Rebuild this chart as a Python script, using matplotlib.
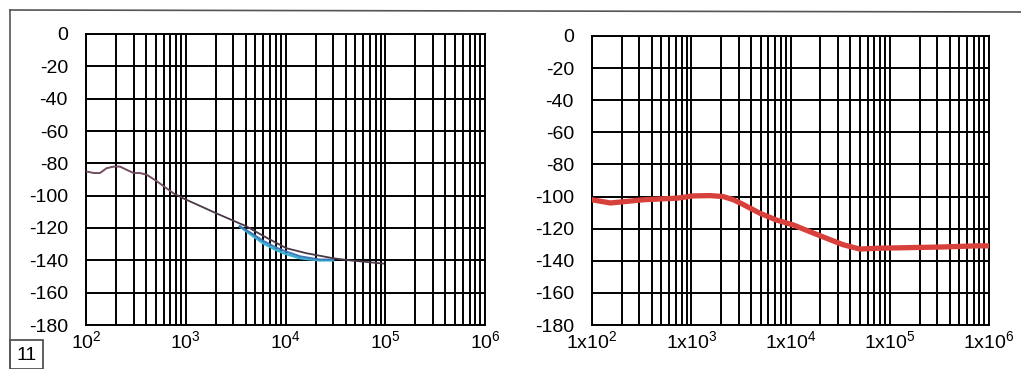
import matplotlib.pyplot as plt
from matplotlib.patches import Rectangle
from matplotlib.lines import Line2D

plt.rcParams['font.family'] = ['Liberation Sans', 'DejaVu Sans']
plt.rcParams['mathtext.fontset'] = 'custom'
plt.rcParams['mathtext.rm'] = 'Liberation Sans'
plt.rcParams['mathtext.it'] = 'Liberation Sans'

# left panel: dark trace and lower cyan/blue traces
f_dark = [100, 120, 138, 161, 190, 219, 255, 300, 347, 405, 511, 751, 932,
          2040, 4060, 6460, 10200, 16200, 30000, 44000, 65000, 95000]
db_dark = [-85, -86, -86, -83, -82, -82, -84, -86, -86, -87, -91, -98.5, -101.5,
           -111, -119, -126, -132.5, -135.6, -138.7, -140, -141, -142]
f_blue = [3480, 4500, 6000, 8000, 9600, 14000, 22000, 30000]
db_blue = [-119, -123, -128, -132, -134, -137.5, -139.5, -139.5]
f_cyan = [3480, 4500, 6000, 8000, 9600, 14000, 22000, 30000]
db_cyan = [-119, -124, -129.5, -133.5, -135.6, -138.7, -140, -140]

# right panel: red trace
f_red = [100, 153, 330, 716, 1050, 1550, 2100, 2660, 3350, 4920, 7200, 10700,
         15700, 23100, 33900, 50000, 73600, 160000, 346000, 746000, 1000000]
db_red = [-102, -104, -102, -101, -99.6, -99.4, -100, -102, -105, -110.4, -114.6,
          -117.7, -121.9, -126, -130, -132.7, -132.2, -131.8, -131.4, -130.7, -130.7]

y_ticks = [0, -20, -40, -60, -80, -100, -120, -140, -160, -180]
x_ticks = [1e2, 1e3, 1e4, 1e5, 1e6]
x_labels_left = ['$10^2$', '$10^3$', '$10^4$', '$10^5$', '$10^6$']
x_labels_right = ['1x$10^2$', '1x$10^3$', '1x$10^4$', '1x$10^5$', '1x$10^6$']

W, H = 1021, 369
fig = plt.figure(figsize=(W / 100, H / 100), dpi=100)
fig.patch.set_facecolor('white')

ax1 = fig.add_axes([86 / W, 1 - 325 / H, (485 - 86) / W, (325 - 34) / H])
ax2 = fig.add_axes([592 / W, 1 - 325 / H, (989 - 592) / W, (325 - 36) / H])


def setup(ax, xlabels):
    ax.set_xscale('log')
    ax.set_xlim(1e2, 1e6)
    ax.set_ylim(-180, 0)
    ax.set_yticks(y_ticks)
    ax.set_yticklabels([str(v) for v in y_ticks])
    ax.set_xticks(x_ticks)
    ax.set_xticklabels(xlabels)
    ax.grid(True, which='major', color='black', lw=1.4)
    ax.grid(True, which='minor', axis='x', color='black', lw=1.4)
    ax.tick_params(which='both', length=0)
    ax.tick_params(axis='y', pad=13, labelsize=14)
    ax.tick_params(axis='x', pad=4, labelsize=14)
    for s in ax.spines.values():
        s.set_linewidth(1.4)
    ax.set_axisbelow(True)


setup(ax1, x_labels_left)
setup(ax2, x_labels_right)

ax1.plot(f_cyan, db_cyan, color='#3ab0d0', lw=1.8, zorder=3)
ax1.plot(f_blue, db_blue, color='#3a78b8', lw=1.4, zorder=3)
ax1.plot(f_dark, db_dark, color='#4a3848', lw=1.3, zorder=4)
ax1.plot(f_dark[:12], db_dark[:12], color='#b06080', lw=0.8, alpha=0.6, zorder=5)

ax2.plot(f_red, db_red, color='#d8403c', lw=3.8, zorder=3)

# outer frame and figure number box
fig.add_artist(Line2D([10 / W, 10 / W], [0, 1 - 10 / H], color='#555555', lw=1.2))
fig.add_artist(Line2D([10 / W, 1], [1 - 10 / H, 1 - 12 / H], color='#555555', lw=1.2))
fig.add_artist(Rectangle((10 / W, 0), 33 / W, 29 / H, fill=False,
                         edgecolor='#444444', lw=1.2))
fig.text(26.5 / W, 13 / H, '11', ha='center', va='center', fontsize=14)

fig.savefig('out.png', dpi=100)
